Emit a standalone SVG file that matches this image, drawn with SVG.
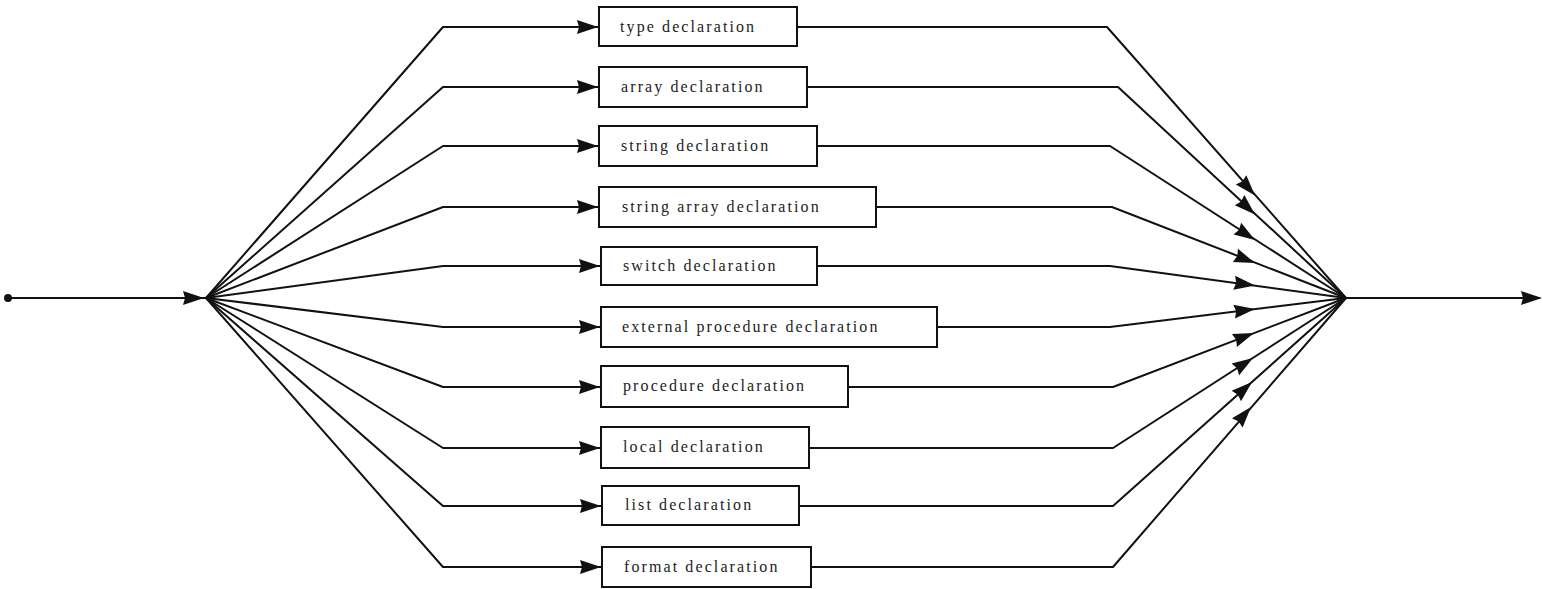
<svg xmlns="http://www.w3.org/2000/svg" width="1543" height="589" viewBox="0 0 1543 589">
  <style>
    .line { fill: none; stroke: #111; stroke-width: 2; stroke-linejoin: round; }
    .box { fill: #fff; stroke: #111; stroke-width: 2; }
    .label { font-family: "Liberation Serif", "DejaVu Serif", serif; font-size: 16px; letter-spacing: 2.1px; fill: #222; }
    .head { fill: #111; }
  </style>
  <defs>
    <!-- arrowhead with its tip at the origin, pointing along +x -->
    <path id="ah" d="M0,0 L-21,-7 L-19,0 L-21,7 Z"/>
  </defs>
  <rect width="1543" height="589" fill="#fff"/>

  <g id="connectors">
    <!-- entry -->
    <circle cx="8" cy="298" r="4" fill="#111"/>
    <path class="line" d="M8,298 H206"/>
    <use href="#ah" class="head" transform="translate(204,298)"/>

    <!-- fan-out to each alternative -->
    <path class="line" d="M206,298 L443,27 H599"/>
    <path class="line" d="M206,298 L443,87 H599"/>
    <path class="line" d="M206,298 L443,146 H599"/>
    <path class="line" d="M206,298 L443,207 H599"/>
    <path class="line" d="M206,298 L443,266 H601"/>
    <path class="line" d="M206,298 L443,327 H601"/>
    <path class="line" d="M206,298 L443,387 H601"/>
    <path class="line" d="M206,298 L443,448 H601"/>
    <path class="line" d="M206,298 L443,506 H602"/>
    <path class="line" d="M206,298 L443,567 H602"/>
    <use href="#ah" class="head" transform="translate(598,27)"/>
    <use href="#ah" class="head" transform="translate(598,87)"/>
    <use href="#ah" class="head" transform="translate(598,146)"/>
    <use href="#ah" class="head" transform="translate(598,207)"/>
    <use href="#ah" class="head" transform="translate(600,266)"/>
    <use href="#ah" class="head" transform="translate(600,327)"/>
    <use href="#ah" class="head" transform="translate(600,387)"/>
    <use href="#ah" class="head" transform="translate(600,448)"/>
    <use href="#ah" class="head" transform="translate(601,506)"/>
    <use href="#ah" class="head" transform="translate(601,567)"/>

    <!-- fan-in from each alternative -->
    <path class="line" d="M797,27 H1107 L1346,298"/>
    <path class="line" d="M807,87 H1118 L1346,298"/>
    <path class="line" d="M817,146 H1110 L1346,298"/>
    <path class="line" d="M876,207 H1112 L1346,298"/>
    <path class="line" d="M817,266 H1110 L1346,298"/>
    <path class="line" d="M937,327 H1110 L1346,298"/>
    <path class="line" d="M848,387 H1113 L1346,298"/>
    <path class="line" d="M809,448 H1113 L1346,298"/>
    <path class="line" d="M799,506 H1113 L1346,298"/>
    <path class="line" d="M811,567 H1113 L1346,298"/>
    <use href="#ah" class="head" transform="translate(1255,195.5) rotate(48.5)"/>
    <use href="#ah" class="head" transform="translate(1255,214.5) rotate(42.8)"/>
    <use href="#ah" class="head" transform="translate(1255,240) rotate(32.9)"/>
    <use href="#ah" class="head" transform="translate(1255,263) rotate(21.3)"/>
    <use href="#ah" class="head" transform="translate(1255,285.5) rotate(7.6)"/>
    <use href="#ah" class="head" transform="translate(1255,309) rotate(-7.1)"/>
    <use href="#ah" class="head" transform="translate(1254,333) rotate(-21)"/>
    <use href="#ah" class="head" transform="translate(1253,358) rotate(-32.9)"/>
    <use href="#ah" class="head" transform="translate(1252,382) rotate(-41.9)"/>
    <use href="#ah" class="head" transform="translate(1251,407) rotate(-49.3)"/>

    <!-- exit -->
    <path class="line" d="M1346,298 H1540"/>
    <use href="#ah" class="head" transform="translate(1542,298)"/>
  </g>

  <g id="type-declaration">
    <rect class="box" x="599" y="7" width="198" height="39"/>
    <text class="label" x="620" y="32">type declaration</text>
  </g>
  <g id="array-declaration">
    <rect class="box" x="599" y="67" width="208" height="40"/>
    <text class="label" x="621" y="92">array declaration</text>
  </g>
  <g id="string-declaration">
    <rect class="box" x="599" y="126" width="218" height="40"/>
    <text class="label" x="621" y="151">string declaration</text>
  </g>
  <g id="string-array-declaration">
    <rect class="box" x="599" y="187" width="277" height="40"/>
    <text class="label" x="622" y="212">string array declaration</text>
  </g>
  <g id="switch-declaration">
    <rect class="box" x="601" y="247" width="216" height="38"/>
    <text class="label" x="623" y="271">switch declaration</text>
  </g>
  <g id="external-procedure-declaration">
    <rect class="box" x="601" y="307" width="336" height="40"/>
    <text class="label" x="622" y="332">external procedure declaration</text>
  </g>
  <g id="procedure-declaration">
    <rect class="box" x="601" y="366" width="247" height="41"/>
    <text class="label" x="623" y="391">procedure declaration</text>
  </g>
  <g id="local-declaration">
    <rect class="box" x="601" y="427" width="208" height="41"/>
    <text class="label" x="623" y="452">local declaration</text>
  </g>
  <g id="list-declaration">
    <rect class="box" x="602" y="486" width="197" height="39"/>
    <text class="label" x="625" y="510">list declaration</text>
  </g>
  <g id="format-declaration">
    <rect class="box" x="602" y="547" width="209" height="40"/>
    <text class="label" x="624" y="572">format declaration</text>
  </g>
</svg>
